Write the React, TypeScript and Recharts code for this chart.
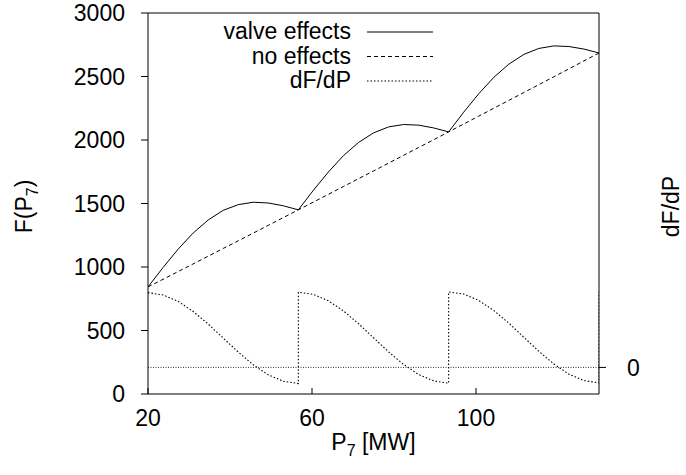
import { LineChart, Line, XAxis, YAxis, ReferenceLine, Legend } from "recharts";

const FONT = '"Liberation Sans", Arial, Helvetica, sans-serif';

// P7 grid (MW), valve points at 20, 56.67, 93.33, 130
const pGrid = [20, 23.67, 27.33, 31, 34.67, 38.33, 42, 45.67, 49.33, 53, 56.67, 60.33, 64, 67.67, 71.33, 75, 78.67, 82.33, 86, 89.67, 93.33, 97, 100.67, 104.33, 108, 111.67, 115.33, 119, 122.67, 126.33, 130];
const fValve = [843, 996, 1140, 1267, 1370, 1446, 1491, 1510, 1504, 1482, 1450, 1604, 1748, 1877, 1980, 2056, 2103, 2122, 2117, 2095, 2064, 2219, 2364, 2493, 2597, 2674, 2721, 2741, 2736, 2716, 2685];
const fNoValve = [843, 903, 964, 1024, 1085, 1146, 1206, 1267, 1328, 1389, 1450, 1511, 1572, 1634, 1695, 1756, 1818, 1879, 1941, 2002, 2064, 2126, 2188, 2250, 2312, 2374, 2436, 2498, 2560, 2623, 2685];

// derivative, repeated x = the jump at each valve point
const dPx = [20, 23.67, 27.33, 31, 34.67, 38.33, 42, 45.67, 49.33, 53, 56.67, 56.67, 60.33, 64, 67.67, 71.33, 75, 78.67, 82.33, 86, 89.67, 93.33, 93.33, 97, 100.67, 104.33, 108, 111.67, 115.33, 119, 122.67, 126.33, 130, 130];
const dFdP = [42.2, 40.9, 37.3, 31.6, 24.5, 16.6, 8.7, 1.5, -4.2, -7.8, -9.1, 42.4, 41.2, 37.6, 31.9, 24.7, 16.75, 8.8, 1.7, -4.0, -7.6, -8.9, 42.6, 41.4, 37.8, 32.1, 25.0, 17.0, 9.1, 1.9, -3.8, -7.4, -8.7, 42.7];

const xTicks = [20, 60, 100];
const fTicks = [0, 500, 1000, 1500, 2000, 2500, 3000];
const dTicks = [0];

const legendRows = [
  { label: "valve effects", dash: undefined as string | undefined },
  { label: "no effects", dash: "4 3" },
  { label: "dF/dP", dash: "1.5 2" },
];

const valveData = pGrid.map((x, i) => ({ x, y: fValve[i] }));
const noValveData = pGrid.map((x, i) => ({ x, y: fNoValve[i] }));
const derivData = dPx.map((x, i) => ({ x, y: dFdP[i] }));

const tickStyle = { fill: "#000", fontSize: 23, fontFamily: FONT };

function LegendBox() {
  return (
    <svg width={280} height={100} style={{ display: "block", overflow: "visible" }}>
      {legendRows.map((r, i) => {
        const cy = 22 + i * 24.5;
        return (
          <g key={r.label}>
            <text x={171} y={cy + 7} textAnchor="end" fontSize={23} fontFamily={FONT} fill="#000">{r.label}</text>
            <line x1={187} x2={253} y1={cy} y2={cy} stroke="#000" strokeWidth={1} strokeDasharray={r.dash} />
          </g>
        );
      })}
    </svg>
  );
}

const XTitle = (props: any) => {
  const { x, y, width } = props.viewBox;
  return (
    <text x={x + width / 2} y={y + 56} textAnchor="middle" fontSize={23} fontFamily={FONT} fill="#000">
      P<tspan dy={6} fontSize={16}>7</tspan><tspan dy={-6}> [MW]</tspan>
    </text>
  );
};

const FTitle = (props: any) => {
  const { x, y, height } = props.viewBox;
  return (
    <text transform={`translate(${x + 24}, ${y + height / 2 + 3}) rotate(-90)`} textAnchor="middle"
          fontSize={23} fontFamily={FONT} fill="#000">
      F(P<tspan dy={6} fontSize={16}>7</tspan><tspan dy={-6}>)</tspan>
    </text>
  );
};

const DTitle = (props: any) => {
  const { x, y, height } = props.viewBox;
  return (
    <text transform={`translate(${x + 80}, ${y + height / 2 + 3}) rotate(-90)`} textAnchor="middle"
          fontSize={23} fontFamily={FONT} fill="#000">
      dF/dP
    </text>
  );
};

export default function App() {
  return (
    <div style={{ width: 686, height: 475, background: "#fff", fontFamily: FONT }}>
      <style>{`body{margin:0}`}</style>
      <LineChart width={686} height={475} margin={{ top: 12, right: 47, bottom: 41, left: 8 }}>
        <XAxis xAxisId="b" type="number" dataKey="x" domain={[20, 130]} ticks={xTicks} allowDataOverflow
               height={40} tickSize={-6} tickMargin={22} stroke="#000" tick={tickStyle}
               label={{ content: XTitle }} />
        <XAxis xAxisId="t" orientation="top" type="number" dataKey="x" domain={[20, 130]} ticks={xTicks}
               allowDataOverflow height={1} tickSize={-6} tick={false} stroke="#000" />
        <YAxis yAxisId="l" type="number" domain={[0, 3000]} ticks={fTicks} width={140}
               tickSize={7} tickMargin={16} stroke="#000" tick={tickStyle} label={{ content: FTitle }} />
        <YAxis yAxisId="r" orientation="right" type="number" domain={[-15, 200]} ticks={dTicks} width={40}
               allowDataOverflow tickSize={7} tickMargin={21} stroke="#000" tick={tickStyle}
               label={{ content: DTitle }} />
        <ReferenceLine xAxisId="b" yAxisId="r" y={0} stroke="#333" strokeWidth={1} strokeDasharray="1 1.5" />
        <Line xAxisId="b" yAxisId="l" data={valveData} dataKey="y" type="linear" stroke="#000" strokeWidth={1}
              dot={false} activeDot={false} isAnimationActive={false} />
        <Line xAxisId="b" yAxisId="l" data={noValveData} dataKey="y" type="linear" stroke="#000" strokeWidth={1}
              strokeDasharray="4 3" dot={false} activeDot={false} isAnimationActive={false} />
        <Line xAxisId="b" yAxisId="r" data={derivData} dataKey="y" type="linear" stroke="#000" strokeWidth={1.1}
              strokeDasharray="1.5 2" dot={false} activeDot={false} isAnimationActive={false} />
        <Legend layout="vertical" align="center" verticalAlign="middle" content={() => <LegendBox />}
                wrapperStyle={{ position: "absolute", left: 180, top: 10, width: 280, height: 100 }} />
      </LineChart>
    </div>
  );
}
